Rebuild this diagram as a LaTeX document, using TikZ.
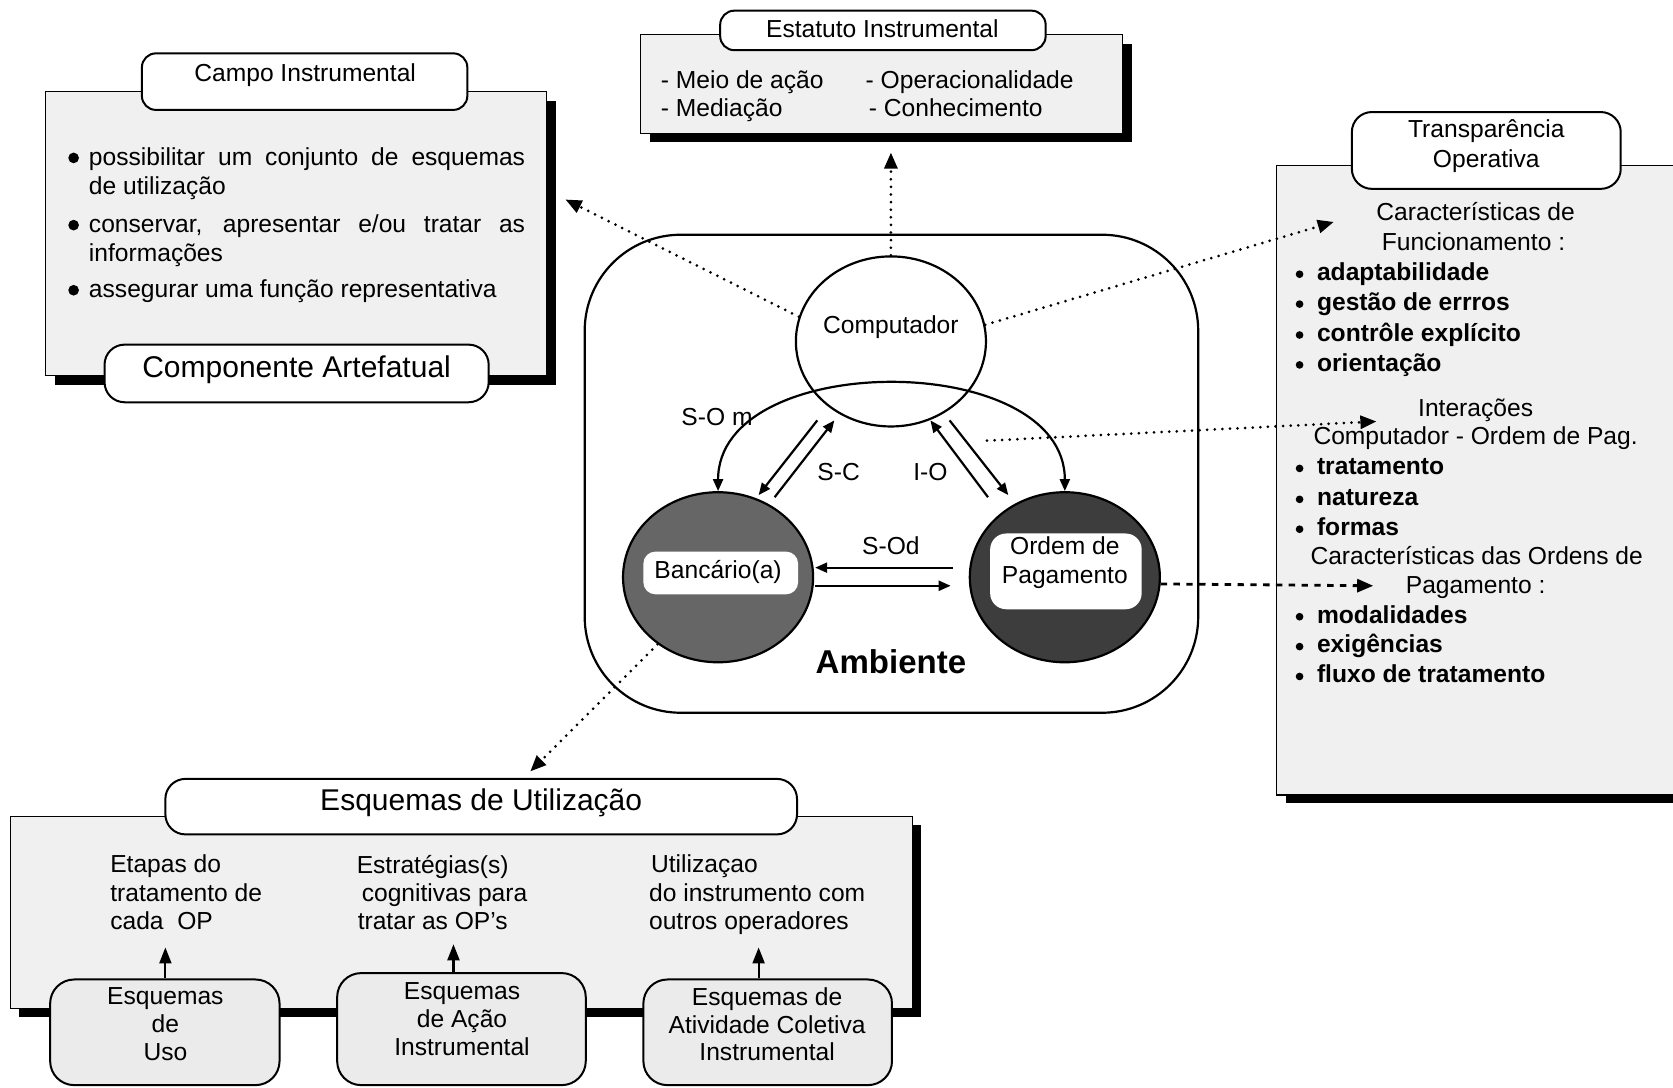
\documentclass[tikz,border=0pt]{standalone}
\usepackage{fontspec}
\setmainfont{Liberation Sans}
\usetikzlibrary{arrows.meta,fit,shapes.geometric}

\definecolor{panelgray}{gray}{0.94}
\definecolor{boxgray}{gray}{0.92}
\definecolor{bankgray}{gray}{0.40}
\definecolor{ordgray}{gray}{0.24}

\newcommand\fsnorm{\fontsize{12.3}{14.4}\selectfont}
\newcommand\fsbig{\fontsize{15}{18}\selectfont}
\newcommand\fsamb{\fontsize{16.5}{19}\selectfont\bfseries}

\begin{document}
\begin{tikzpicture}[x=0.5333pt,y=-0.5333pt,
  shadowbox/.style={fill=black, draw=none, inner sep=0pt},
  panel/.style={draw=black, line width=0.6pt, fill=panelgray, inner sep=0pt},
  tab/.style={draw=black, line width=1pt, fill=white, rounded corners=7pt, inner sep=0pt},
  graybox/.style={draw=black, line width=1pt, fill=boxgray, rounded corners=12pt, inner sep=0pt},
  whitelabel/.style={draw=none, fill=white, rounded corners=6pt, inner sep=0pt},
  txt/.style={inner sep=0pt, font=\fsnorm},
  txtb/.style={inner sep=0pt, font=\fsnorm\bfseries},
  coltxt/.style={inner sep=0pt, align=left, font=\fontsize{12.3}{14.1}\selectfont},
  disc/.style={ellipse, draw=black, line width=1.1pt, inner sep=0pt,
               minimum width=95pt, minimum height=85pt},
  rel/.style={line width=1.1pt, -{Triangle[length=6pt,width=5pt]}},
  dotarrow/.style={line width=1.5pt, line cap=round, dash pattern=on 0pt off 3.8pt,
                   -{Triangle[length=8pt,width=6.5pt]}},
  dasharrow/.style={line width=1.4pt, dash pattern=on 3.2pt off 3.2pt,
                    -{Triangle[length=8pt,width=6.5pt]}},
  uparrow/.style={line width=1.1pt, -{Triangle[length=8pt,width=6pt]}},
]
\useasboundingbox (0,0) rectangle (1568,1019);
\clip (0,0) rectangle (1568,1019);
\fill[white] (0,0) rectangle (1568,1019);

% ---------- Campo Instrumental / Componente Artefatual ----------
\node[shadowbox, fit={(52,95) (521,361)}] (campoShadow) {};
\node[panel, fit={(43,86) (512,352)}] (campo) {};
\node[tab, fit={(133,50) (438,103)}] (campoTab) {};
\node[txt, anchor=base] (campoTitle) at (286,76) {Campo Instrumental};
\fill (69,148) circle[radius=5];
\fill (69,211) circle[radius=5];
\fill (69,272) circle[radius=5];
\node[txt, anchor=base west, text width=218pt, align=justify] (campoB1) at (83,155)
  {\hyphenpenalty=10000 possibilitar um conjunto de esquemas\linebreak de utilização};
\node[txt, anchor=base west, text width=218pt, align=justify] (campoB2) at (83,218)
  {\hyphenpenalty=10000 conservar, apresentar e/ou tratar as\linebreak informações};
\node[txt, anchor=base west] (campoB3) at (83,279) {assegurar uma função representativa};
\node[tab, rounded corners=10pt, fit={(98,323) (458,377)}] (artTab) {};
\node[inner sep=0pt, font=\fsbig, anchor=base] (artTitle) at (278,354) {Componente Artefatual};

% ---------- Estatuto Instrumental ----------
\node[shadowbox, fit={(609,41) (1061,133)}] (estShadow) {};
\node[panel, fit={(600,32) (1052,125)}] (est) {};
\node[tab, fit={(675,10) (980,47)}] (estTab) {};
\node[txt, anchor=base] (estTitle) at (827,35) {Estatuto Instrumental};
\node[txt, anchor=base west] (estA) at (619,83) {- Meio de ação};
\node[txt, anchor=base west] (estB) at (811,83) {- Operacionalidade};
\node[txt, anchor=base west] (estC) at (619,109) {- Mediação};
\node[txt, anchor=base west] (estD) at (814,109) {- Conhecimento};

% ---------- Transparência Operativa ----------
\node[shadowbox, fit={(1205,164) (1600,753)}] (transShadow) {};
\node[panel, fit={(1196,155) (1590,745)}] (trans) {};
\node[tab, rounded corners=10pt, fit={(1267,105) (1519,177)}] (transTab) {};
\node[txt, anchor=base] (transT1) at (1393,129) {Transparência};
\node[txt, anchor=base] (transT2) at (1393,157) {Operativa};
\node[txt, anchor=base] (carA) at (1383,207) {Características de};
\node[txt, anchor=base] (carB) at (1381,235) {Funcionamento :};
\foreach \yy/\word [count=\i] in {263/adaptabilidade, 291/gestão de errros,
    320/contrôle explícito, 348/orientação,
    445/tratamento, 474/natureza, 502/formas,
    584/modalidades, 612/exigências, 640/fluxo de tratamento}{
  \fill (1218,\yy-6) circle[radius=3.6];
  \node[txtb, anchor=base west] (item\i) at (1234,\yy) {\word};
}
\node[txt, anchor=base] (interA) at (1383,390) {Interações};
\node[txt, anchor=base] (interB) at (1383,417) {Computador - Ordem de Pag.};
\node[txt, anchor=base] (ordCarA) at (1384,529) {Características das Ordens de};
\node[txt, anchor=base] (ordCarB) at (1383,556) {Pagamento :};

% ---------- Esquemas de Utilização ----------
\node[shadowbox, fit={(18,773) (863,953)}] (esqShadow) {};
\node[panel, fit={(10,765) (855,945)}] (esq) {};
\node[tab, rounded corners=10pt, fit={(155,730) (747,782)}] (esqTab) {};
\node[inner sep=0pt, font=\fsbig, anchor=base] (esqTitle) at (451,760) {Esquemas de Utilização};
\node[coltxt, anchor=north west] (colA) at (103,801)
  {Etapas do\\tratamento de\\cada\ \ OP};
\node[coltxt, anchor=north west] (colB) at (334,801)
  {Estratégias(s)\\\hspace*{2.5pt}cognitivas para\\\hspace*{0.5pt}tratar as OP's};
\node[coltxt, anchor=north west] (colC) at (608,801)
  {\hspace*{1pt}Utilizaçao\\do instrumento com\\outros operadores};
\node[graybox, fit={(47,918) (262,1017)}] (usoBox) {};
\node[graybox, fit={(316,912) (549,1017)}] (acaoBox) {};
\node[graybox, fit={(603,918) (836,1017)}] (colBox) {};
\node[txt, align=center, font=\fontsize{12.3}{13.9}\selectfont] (usoTxt) at (155,960)
  {Esquemas\\de\\Uso};
\node[txt, align=center, font=\fontsize{12.3}{13.9}\selectfont] (acaoTxt) at (433,955)
  {Esquemas\\de Ação\\Instrumental};
\node[txt, align=center, font=\fontsize{12.3}{13.9}\selectfont] (colTxt) at (719,960)
  {Esquemas de\\Atividade Coletiva\\Instrumental};
\coordinate (usoTip) at (155,888);
\coordinate (acaoTip) at (425,885);
\coordinate (colTip) at (711,888);
\draw[uparrow] (usoTip |- usoBox.north) -- (usoTip);
\draw[uparrow] (acaoTip |- acaoBox.north) -- (acaoTip);
\draw[uparrow] (colTip |- colBox.north) -- (colTip);

% ---------- Ambiente ----------
\node[draw=black, line width=1.1pt, rounded corners=48pt, inner sep=0pt,
      fit={(548,220) (1123,668)}] (amb) {};
\node[inner sep=0pt, font=\fsamb, anchor=base] (ambTitle) at (835,631) {Ambiente};
\node[disc, fill=white] (comp) at (835,320) {};
\node[disc, fill=bankgray] (bank) at (673,541) {};
\node[disc, fill=ordgray] (ord) at (998,541) {};
\node[txt, anchor=base] (compTxt) at (835,313) {Computador};
\node[whitelabel, fit={(603,517) (748,557)}] (bankLabel) {};
\node[txt, anchor=base] (bankTxt) at (673,542) {Bancário(a)};
\node[whitelabel, rounded corners=8pt, fit={(928,500) (1070,571)}] (ordLabel) {};
\node[txt, anchor=base] (ordTxtA) at (998,520) {Ordem de};
\node[txt, anchor=base] (ordTxtB) at (998,547) {Pagamento};

% S-O m : arc over the Computador disc
\draw[line width=1.1pt, {Triangle[length=6pt,width=5pt]}-{Triangle[length=6pt,width=5pt]}]
  (bank.north) .. controls +(0,-133) and +(0,-133) .. (ord.north);
\node[txt, anchor=base] (somLbl) at (672,399) {S-O m};

% S-C
\coordinate (scFromBank) at (726,466);
\coordinate (scToComp) at (782,394);
\coordinate (scFromComp) at (766,394);
\coordinate (scToBank) at (711,464);
\draw[rel] (scFromBank) -- (scToComp);
\draw[rel] (scFromComp) -- (scToBank);
\node[txt, anchor=base] (scLbl) at (786,450) {S-C};

% I-O
\coordinate (ioFromOrd) at (926,466);
\coordinate (ioToComp) at (872,394);
\coordinate (ioFromComp) at (890,394);
\coordinate (ioToOrd) at (945,464);
\draw[rel] (ioFromOrd) -- (ioToComp);
\draw[rel] (ioFromComp) -- (ioToOrd);
\node[txt, anchor=base] (ioLbl) at (872,450) {I-O};

% S-Od
\coordinate (sodFromOrd) at (893,532);
\coordinate (sodToBank) at (764,532);
\coordinate (sodFromBank) at (764,549);
\coordinate (sodToOrd) at (891,549);
\draw[rel] (sodFromOrd) -- (sodToBank);
\draw[rel] (sodFromBank) -- (sodToOrd);
\node[txt, anchor=base] (sodLbl) at (835,520) {S-Od};

% ---------- links to the surrounding panels ----------
\coordinate (campoTip) at (530,187);
\coordinate (estTip) at (835,143);
\coordinate (funcTip) at (1250,208);
\coordinate (interStart) at (925,413);
\coordinate (interTip) at (1290,395);
\coordinate (pagTip) at (1287,549);
\coordinate (esqTip) at (497,723);
\draw[dotarrow] (comp.165) -- (campoTip);
\draw[dotarrow] (comp.north) -- (estTip);
\draw[dotarrow] (comp.10) -- (funcTip);
\draw[dotarrow] (interStart) -- (interTip);
\draw[dasharrow] (ord.-4) -- (pagTip);
\draw[dotarrow] (bank.228) -- (esqTip);
\end{tikzpicture}
\end{document}
